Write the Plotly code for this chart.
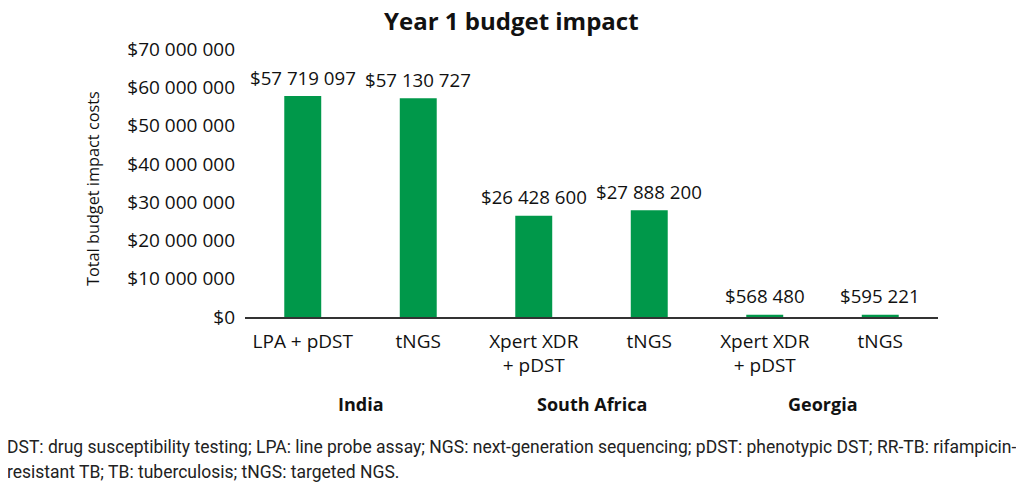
import plotly.graph_objects as go

categories = ["LPA + pDST", "tNGS", "Xpert XDR<br>+ pDST", "tNGS", "Xpert XDR<br>+ pDST", "tNGS"]
values = [57719097, 57130727, 26428600, 27888200, 568480, 595221]
value_labels = ["$57 719 097", "$57 130 727", "$26 428 600", "$27 888 200", "$568 480", "$595 221"]
groups = ["India", "South Africa", "Georgia"]
group_centers = [0.5, 2.5, 4.5]
ytick_vals = [0, 10e6, 20e6, 30e6, 40e6, 50e6, 60e6, 70e6]
ytick_text = ["$0", "$10 000 000", "$20 000 000", "$30 000 000", "$40 000 000",
              "$50 000 000", "$60 000 000", "$70 000 000"]
chart_title = "Year 1 budget impact"
y_title = "Total budget impact costs"
footnote_lines = [
    "DST: drug susceptibility testing; LPA: line probe assay; NGS: next-generation sequencing; "
    "pDST: phenotypic DST; RR-TB: rifampicin-",
    "resistant TB; TB: tuberculosis; tNGS: targeted NGS.",
]

FONT = "Open Sans"
TXT = "#111111"
xs = list(range(len(values)))

fig = go.Figure()
fig.add_trace(go.Bar(
    x=xs, y=values, width=0.32,
    marker=dict(color="#00984A", line=dict(width=0)),
    hoverinfo="skip",
))

for xi, v, lab in zip(xs, values, value_labels):
    fig.add_annotation(x=xi, y=v, xref="x", yref="y", text=lab, showarrow=False,
                       yanchor="middle", yshift=19,
                       font=dict(family=FONT, size=18.7, color=TXT))

for g, c in zip(groups, group_centers):
    fig.add_annotation(x=c, y=0, xref="x", yref="paper", text="<b>%s</b>" % g,
                       showarrow=False, yanchor="middle", yshift=-87,
                       font=dict(family=FONT, size=18, color=TXT))

# chart title
fig.add_annotation(x=0.5, y=1, xref="paper", yref="paper", text="<b>%s</b>" % chart_title,
                   showarrow=False, xanchor="center", yanchor="middle",
                   xshift=-80, yshift=29,
                   font=dict(family=FONT, size=24, color=TXT))

fig.add_annotation(x=0, y=0.5, xref="paper", yref="paper", text=y_title, textangle=-90,
                   showarrow=False, xanchor="center", yanchor="middle",
                   xshift=-152, yshift=-6,
                   font=dict(family=FONT, size=16.3, color=TXT))

for i, line in enumerate(footnote_lines):
    fig.add_annotation(x=0, y=0, xref="paper", yref="paper", xanchor="left", yanchor="middle",
                       text=line, showarrow=False, align="left",
                       xshift=-240, yshift=-130 - 25 * i,
                       font=dict(family="Roboto", size=17.5, color="#222222"))

fig.update_layout(
    width=1024, height=488,
    margin=dict(l=237, r=94, t=41, b=179, autoexpand=False),
    paper_bgcolor="white", plot_bgcolor="white",
    showlegend=False,
    xaxis=dict(tickvals=xs, ticktext=categories, range=[-0.5, 5.5],
               showline=True, linecolor="#333333", linewidth=1.5, ticks="",
               ticklabelstandoff=6, automargin=False,
               showgrid=False, zeroline=False,
               tickfont=dict(family=FONT, size=19, color=TXT)),
    yaxis=dict(range=[0, 70e6], tickvals=ytick_vals, ticktext=ytick_text,
               showgrid=False, zeroline=False, showline=False, ticks="",
               ticklabelstandoff=9, automargin=False,
               tickfont=dict(family=FONT, size=19, color=TXT)),
)

fig.write_html("out.html")
